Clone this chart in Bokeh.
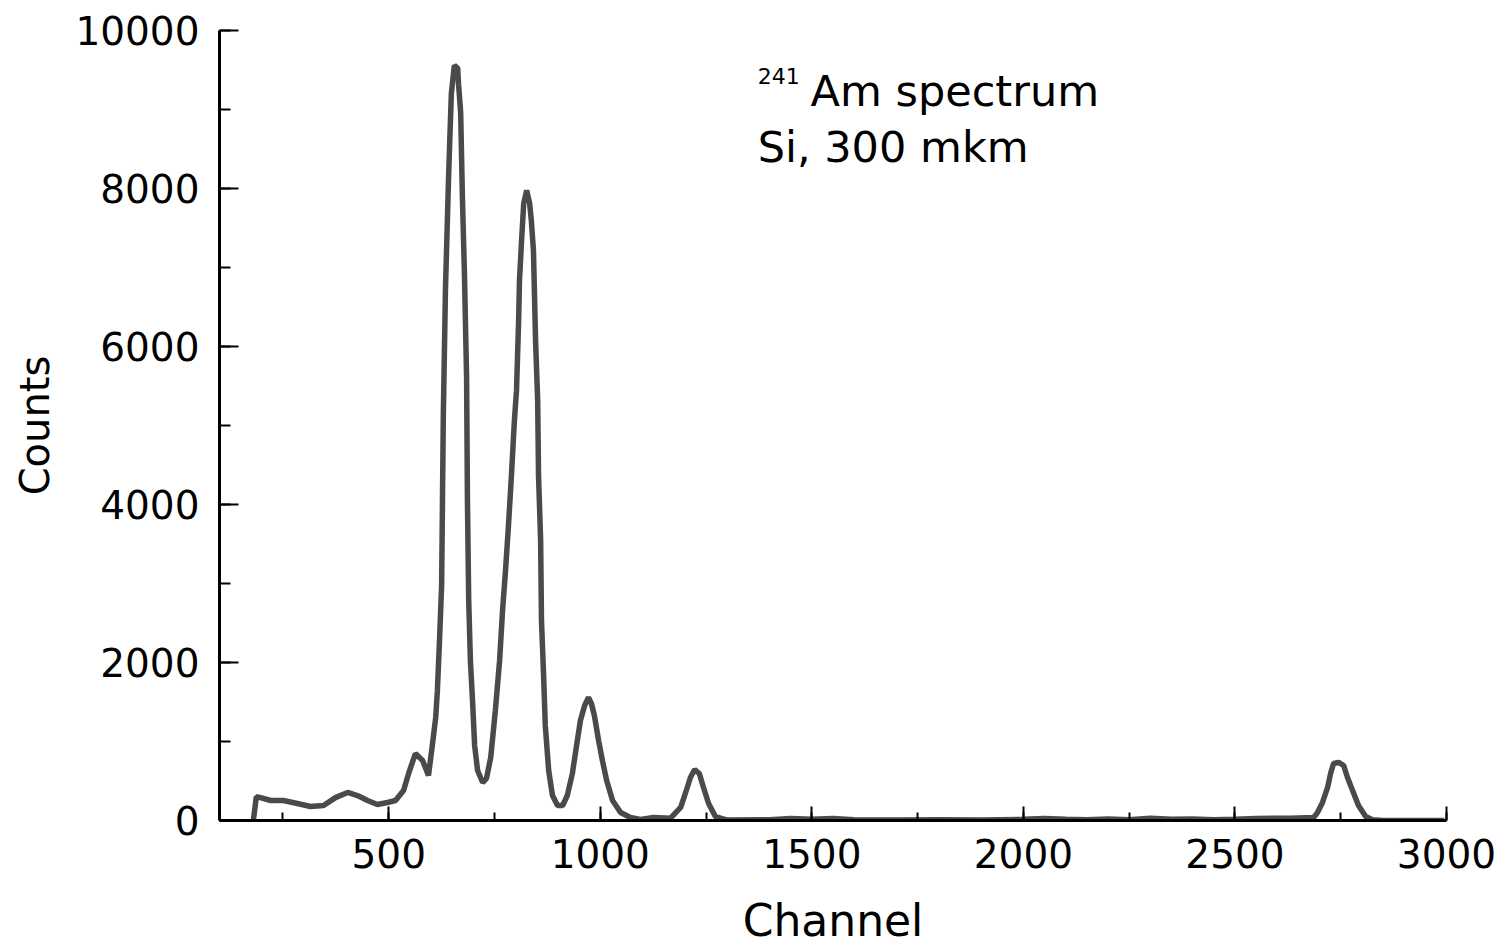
from bokeh.plotting import figure
from bokeh.models import Range1d, SingleIntervalTicker, Label
from bokeh.embed import file_html
from bokeh.resources import INLINE

# Spectrum data (channel, counts)
channel = [180, 187, 197, 221, 251, 284, 315, 346, 374, 403, 426, 450, 473, 497, 516,
           535, 547, 563, 580, 594, 603, 611, 615, 620, 625, 627, 629, 634, 641, 644,
           648, 655, 663, 665, 670, 674, 679, 684, 686, 689, 693, 698, 703, 710, 722,
           731, 741, 752, 762, 769, 776, 783, 790, 797, 802, 807, 809, 814, 819, 826,
           833, 837, 842, 847, 852, 854, 859, 861, 866, 870, 878, 887, 899, 911, 922,
           934, 944, 953, 963, 972, 979, 986, 996, 1005, 1015, 1029, 1048, 1071, 1095, 1126,
           1166, 1190, 1201, 1213, 1223, 1234, 1244, 1256, 1272, 1300, 1400, 1450, 1500, 1550,
           1600, 1700, 1800, 1900, 2000, 2050, 2100, 2150, 2200, 2250, 2300, 2350, 2400, 2450,
           2500, 2550, 2600, 2631, 2686, 2695, 2707, 2719, 2726, 2733, 2745, 2757, 2766, 2778,
           2792, 2809, 2825, 2850, 2995]
counts = [0, 300, 290, 253, 253, 215, 177, 190, 290, 355, 316, 253, 203, 228, 253,
          380, 595, 848, 760, 570, 950, 1304, 1646, 2279, 2975, 4050, 5127, 6710, 8064, 8571,
          9204, 9558, 9520, 9318, 8963, 7913, 6900, 5608, 4050, 2785, 2025, 1520, 950, 633, 481,
          532, 798, 1393, 2025, 2658, 3165, 3735, 4368, 5064, 5444, 6330, 6836, 7343, 7811, 7976,
          7811, 7596, 7216, 6077, 5317, 4368, 3545, 2532, 1836, 1203, 633, 316, 190, 190, 316,
          595, 950, 1266, 1456, 1557, 1481, 1329, 1013, 760, 506, 253, 101, 38, 13, 38,
          30, 165, 342, 544, 646, 595, 418, 215, 50, 5, 10, 25, 15, 25,
          10, 5, 10, 5, 15, 25, 15, 10, 20, 10, 30, 15, 20, 10,
          15, 25, 30, 30, 38, 100, 228, 418, 595, 722, 735, 696, 544, 380,
          190, 50, 10, 0, 0]

x_ticks_interval = 500
y_ticks_interval = 2000

FONT = "DejaVu Sans"

p = figure(frame_width=1227, frame_height=790, output_backend="svg", toolbar_location=None,
           x_range=Range1d(100, 3000), y_range=Range1d(0, 10000),
           min_border_left=219, min_border_top=30, min_border_right=56, min_border_bottom=0)
p.outline_line_color = None
p.xgrid.visible = False
p.ygrid.visible = False
p.background_fill_color = "white"
p.border_fill_color = "white"

p.line(channel, counts, line_color="#4a4a4a", line_width=5.5)

p.xaxis.ticker = SingleIntervalTicker(interval=x_ticks_interval, num_minor_ticks=2)
p.yaxis.ticker = SingleIntervalTicker(interval=y_ticks_interval, num_minor_ticks=2)

for ax in (p.xaxis, p.yaxis):
    ax.axis_line_color = "black"
    ax.axis_line_width = 3
    ax.major_tick_line_color = "black"
    ax.minor_tick_line_color = "black"
    ax.major_tick_line_width = 2
    ax.minor_tick_line_width = 2
    ax.major_tick_out = 0
    ax.minor_tick_out = 0
    ax.major_label_text_font = FONT
    ax.major_label_text_font_size = "39px"
    ax.major_label_text_color = "black"
    ax.axis_label_text_font = FONT
    ax.axis_label_text_font_style = "normal"
    ax.axis_label_text_color = "black"

p.xaxis.major_tick_in = 14
p.xaxis.minor_tick_in = 8
p.yaxis.major_tick_in = 19
p.yaxis.minor_tick_in = 11

p.xaxis.axis_label = "Channel"
p.xaxis.axis_label_text_font_size = "44px"
p.xaxis.major_label_standoff = 18
p.xaxis.axis_label_standoff = 24

p.yaxis.axis_label = "Counts"
p.yaxis.axis_label_text_font_size = "40px"
p.yaxis.major_label_standoff = 20
p.yaxis.axis_label_standoff = 14

p.add_layout(Label(x=1372, y=9430, text="241", text_font=FONT, text_font_size="22px",
                   text_color="black", text_baseline="alphabetic"))
p.add_layout(Label(x=1497, y=9228, text="Am spectrum", text_font=FONT, text_font_size="43px",
                   text_color="black", text_baseline="alphabetic"))
p.add_layout(Label(x=1372, y=8520, text="Si, 300 mkm", text_font=FONT, text_font_size="43px",
                   text_color="black", text_baseline="alphabetic"))

open("out.html", "w").write(file_html(p, INLINE))
